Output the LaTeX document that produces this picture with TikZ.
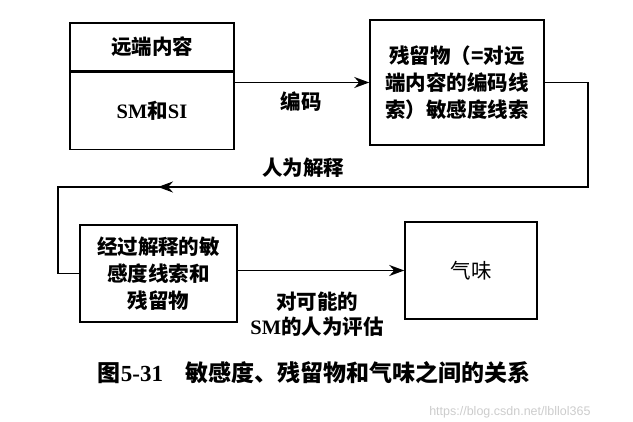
\documentclass[tikz,border=0pt]{standalone}
\usepackage{fontspec}
\setmainfont{Liberation Serif}
\newfontfamily\cjk{Noto Sans CJK SC}
\newfontfamily\wmfont{Liberation Sans}
\newcommand{\latn}[1]{{\rmfamily #1}}
\usetikzlibrary{positioning,arrows.meta}

\begin{document}
\begin{tikzpicture}[
x=1pt, y=-1pt,
node distance=0pt,
box/.style={draw, line width=1.5pt, minimum width=#1, inner sep=0pt, align=center, font=\fontsize{20.5}{27}\selectfont\cjk\bfseries},
label/.style={align=center, font=\fontsize{20.5}{25}\selectfont\cjk\bfseries},
line/.style={line width=1.5pt},
arrow/.style={line width=1.5pt, -{Stealth[length=15pt, width=11pt]}}
]
\useasboundingbox (0,0) rectangle (633,422);
% boxes
\node[box=164pt, minimum height=48pt] (remote) at (152,47) {远端内容};
\node[box=164pt, minimum height=77pt, below=of remote] (smsi) {\latn{SM}和\latn{SI}};
\node[box=174pt, minimum height=125pt] (residue) at (457,82.5) {残留物（=对远\\端内容的编码线\\索）敏感度线索};
\node[box=157pt, minimum height=97pt] (interp) at (158.5,273.5) {经过解释的敏\\感度线索和\\残留物};
\node[box=132pt, minimum height=97pt, font=\fontsize{20.5}{27}\selectfont\cjk] (smell) at (471,270.5) {气味};
% feedback corners
\coordinate (fbR) at (588,187);
\coordinate (fbL) at (58,187);
\coordinate (fbMid) at (158,187);
% connectors
\draw[arrow] (smsi.east |- residue.west) -- (residue.west);
\draw[line] (residue.east) -| (fbR) -- (fbL) |- (interp.west);
\draw[arrow] (fbR) -- (fbMid);
\draw[arrow] (interp.east |- smell.west) -- (smell.west);
% labels
\node[label] (encode) at (301,102) {编码};
\node[label] (human) at (303,168) {人为解释};
\node[label] (assess) at (317,314) {对可能的\\\latn{SM}的人为评估};
\node[font=\fontsize{23}{27}\selectfont\cjk\bfseries] (caption) at (314,373) {图\latn{5-31}\hspace{22pt}敏感度、残留物和气味之间的关系};
\node[anchor=east, text=black!20, font=\fontsize{12.5}{14}\selectfont\wmfont] (mark) at (594,412) {https://blog.csdn.net/lbllol365};
\end{tikzpicture}
\end{document}
